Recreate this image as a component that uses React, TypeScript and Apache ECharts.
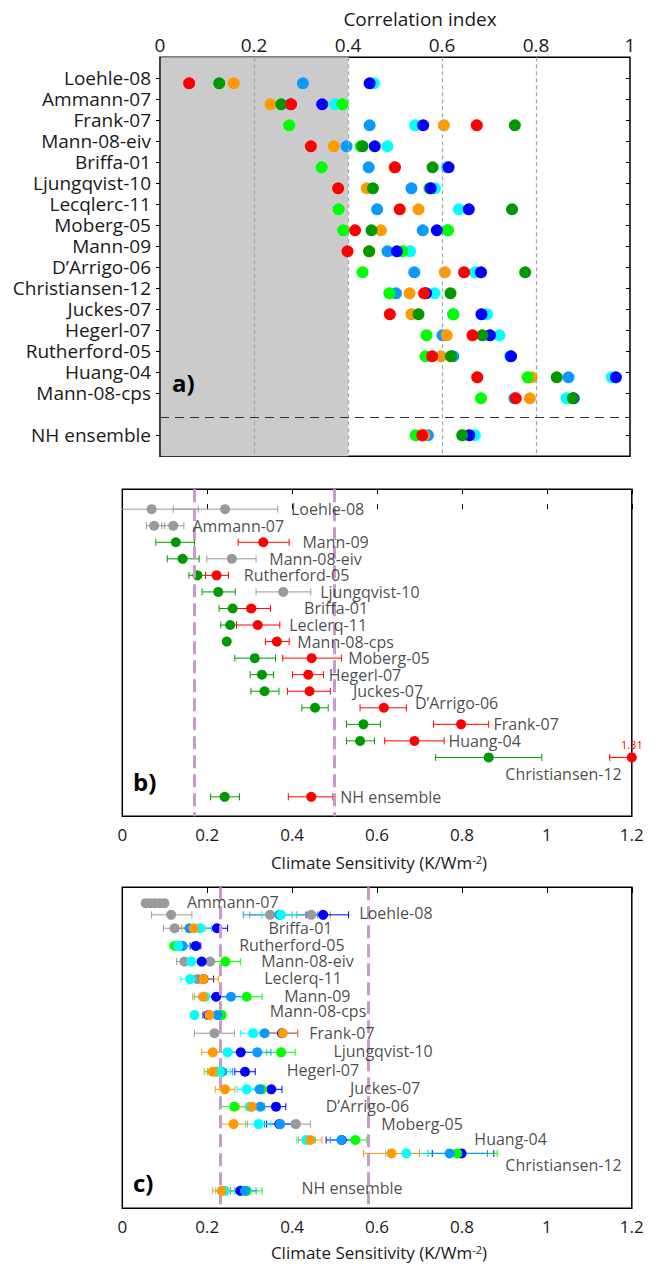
import React, { useEffect, useRef } from "react";
import * as echarts from "echarts";

const FONT = "'Open Sans', 'Noto Sans', 'DejaVu Sans', sans-serif";
const INK = "#1a1a1a";
const COL: Record<string, string> = {
  red: "#ff0000",
  dkgreen: "#009a00",
  orange: "#ff9a00",
  ltblue: "#0a99ff",
  blue: "#0000ff",
  cyan: "#00ffff",
  lime: "#00ff00",
  gray: "#9a9a9a",
};

// ---------------- Panel a: correlation index ----------------
const namesA = [
  "Loehle-08", "Ammann-07", "Frank-07", "Mann-08-eiv", "Briffa-01", "Ljungqvist-10",
  "Lecqlerc-11", "Moberg-05", "Mann-09", "D’Arrigo-06", "Christiansen-12", "Juckes-07",
  "Hegerl-07", "Rutherford-05", "Huang-04", "Mann-08-cps", "NH ensemble",
];
const rowsA = [0, 1, 2, 3, 4, 5, 6, 7, 8, 9, 10, 11, 12, 13, 14, 15, 17];
const separatorA = 16.16;
const corrTicks = [0, 0.2, 0.4, 0.6, 0.8, 1];
const corrGrid = [0.2, 0.4, 0.6, 0.8];
const corrThreshold = 0.4;

const corrCyan = [0.455, 0.372, 0.543, 0.484, 0.61, 0.585, 0.636, 0.611, 0.532, 0.67, 0.584, 0.696, 0.722, 0.745, 0.961, 0.865, 0.67];
const corrLtblue = [0.304, 0.277, 0.446, 0.397, 0.444, 0.535, 0.462, 0.559, 0.484, 0.541, 0.502, 0.624, 0.601, 0.624, 0.869, 0.754, 0.57];
const corrOrange = [0.157, 0.235, 0.604, 0.37, 0.499, 0.44, 0.55, 0.47, 0.445, 0.606, 0.531, 0.535, 0.61, 0.598, 0.791, 0.787, 0.562];
const corrLime = [null, 0.388, 0.275, 0.427, 0.344, 0.573, 0.38, 0.39, 0.516, 0.431, 0.488, 0.624, 0.567, 0.565, 0.782, 0.683, 0.544];
const corrLimeExtra = [null, null, null, null, null, null, null, 0.613, null, null, null, null, null, null, null, null, null];
const corrBlue = [0.446, 0.345, 0.56, 0.457, 0.614, 0.576, 0.657, 0.589, 0.504, 0.683, 0.566, 0.684, 0.702, 0.747, 0.97, 0.88, 0.658];
const corrDkgreen = [0.126, 0.258, 0.755, 0.431, 0.58, 0.453, 0.749, 0.45, 0.445, 0.777, 0.618, 0.55, 0.686, 0.619, 0.844, 0.878, 0.643];
const corrRed = [0.062, 0.279, 0.674, 0.321, 0.5, 0.379, 0.51, 0.415, 0.399, 0.647, 0.562, 0.489, 0.665, 0.579, 0.675, 0.757, 0.558];

// ---------------- Panel b: climate sensitivity ----------------
const sensTicks = [0, 0.2, 0.4, 0.6, 0.8, 1, 1.2];
const namesB = [
  "Loehle-08", "Ammann-07", "Mann-09", "Mann-08-eiv", "Rutherford-05", "Ljungqvist-10",
  "Briffa-01", "Leclerq-11", "Mann-08-cps", "Moberg-05", "Hegerl-07", "Juckes-07",
  "D’Arrigo-06", "Frank-07", "Huang-04", "Christiansen-12", "NH ensemble",
];
const rowsB = [0, 1, 2, 3, 4, 5, 6, 7, 8, 9, 10, 11, 12, 13, 14, 15, 17.38];
const labelXB = [0.396, 0.164, 0.423, 0.345, 0.285, 0.465, 0.427, 0.392, 0.411, 0.531, 0.485, 0.542, 0.688, 0.873, 0.767, 0.901, 0.512];
const labelYB = [0, 1, 2, 3, 4, 5, 6, 7, 8, 9, 10, 11, 11.73, 13, 14, 16.02, 17.38];
const rangeB = [0.172, 0.498];
// [row, value, low, high]
const sensGrayB = [
  [0, 0.069, -0.04, 0.179], [0, 0.242, 0.12, 0.366],
  [1, 0.075, 0.057, 0.1], [1, 0.12, 0.093, 0.145],
  [3, 0.258, 0.199, 0.315], [5, 0.379, 0.315, 0.444],
];
const sensGreenB = [
  [2, 0.126, 0.079, 0.17], [3, 0.142, 0.106, 0.181], [4, 0.177, 0.157, 0.196],
  [5, 0.226, 0.188, 0.266], [6, 0.26, 0.228, 0.294], [7, 0.254, 0.232, 0.269],
  [8, 0.246, 0.246, 0.246], [9, 0.312, 0.265, 0.361], [10, 0.329, 0.301, 0.356],
  [11, 0.335, 0.303, 0.369], [12, 0.454, 0.423, 0.485], [13, 0.568, 0.528, 0.608],
  [14, 0.56, 0.528, 0.594], [15, 0.863, 0.738, 0.988], [16, 0.241, 0.208, 0.276],
];
const sensRedB = [
  [2, 0.332, 0.273, 0.393], [4, 0.222, 0.196, 0.25], [6, 0.304, 0.265, 0.349],
  [7, 0.319, 0.269, 0.371], [8, 0.364, 0.337, 0.393], [9, 0.446, 0.378, 0.516],
  [10, 0.438, 0.401, 0.474], [11, 0.441, 0.389, 0.49], [12, 0.616, 0.56, 0.669],
  [13, 0.798, 0.733, 0.863], [14, 0.688, 0.618, 0.758], [15, 1.31, 1.148, 1.47],
  [16, 0.445, 0.391, 0.496],
];

// ---------------- Panel c: climate sensitivity ----------------
const namesC = [
  "Ammann-07", "Loehle-08", "Briffa-01", "Rutherford-05", "Mann-08-eiv", "Leclerq-11",
  "Mann-09", "Mann-08-cps", "Frank-07", "Ljungqvist-10", "Hegerl-07", "Juckes-07",
  "D’Arrigo-06", "Moberg-05", "Huang-04", "Christiansen-12", "NH ensemble",
];
const rowsC = [0.58, 1.24, 2, 3, 3.89, 4.88, 5.88, 6.92, 7.95, 9.03, 10.13, 11.13, 12.11, 13.1, 14, 14.76, 16.88];
const labelXC = [0.151, 0.557, 0.343, 0.274, 0.326, 0.333, 0.38, 0.346, 0.439, 0.496, 0.386, 0.535, 0.478, 0.609, 0.828, 0.901, 0.421];
const labelYC = [0.53, 1.13, 2, 2.94, 3.84, 4.84, 5.85, 6.7, 7.94, 8.94, 10.04, 11.07, 12.07, 13.11, 13.94, 15.42, 16.74];
const rangeC = [0.23, 0.58];
const sensGrayC = [
  [0, 0.055, 0.055, 0.055], [0, 0.066, 0.066, 0.066], [0, 0.077, 0.077, 0.077],
  [0, 0.088, 0.088, 0.088], [0, 0.099, 0.099, 0.099],
  [1, 0.115, 0.069, 0.164], [1, 0.348, 0.3, 0.4], [1, 0.445, 0.41, 0.49],
  [2, 0.123, 0.097, 0.15], [4, 0.146, 0.128, 0.17], [4, 0.207, 0.18, 0.235],
  [5, 0.177, 0.155, 0.2], [8, 0.217, 0.17, 0.264], [13, 0.409, 0.375, 0.443],
];
const sensBlueC = [
  [1, 0.473, 0.433, 0.533], [2, 0.223, 0.19, 0.248], [3, 0.173, 0.16, 0.185],
  [4, 0.187, 0.165, 0.21], [5, 0.191, 0.17, 0.215], [6, 0.221, 0.195, 0.25],
  [7, 0.203, 0.19, 0.22], [8, 0.376, 0.34, 0.413], [9, 0.279, 0.25, 0.31],
  [10, 0.289, 0.265, 0.313], [11, 0.351, 0.325, 0.376], [12, 0.362, 0.335, 0.385],
  [13, 0.37, 0.34, 0.4], [14, 0.517, 0.48, 0.55], [15, 0.799, 0.73, 0.875],
  [16, 0.278, 0.255, 0.3],
];
const sensLimeC = [
  [3, 0.124, 0.112, 0.138], [4, 0.243, 0.205, 0.278], [6, 0.293, 0.26, 0.329],
  [7, 0.234, 0.22, 0.242], [9, 0.374, 0.34, 0.407], [10, 0.221, 0.2, 0.245],
  [11, 0.329, 0.3, 0.355], [12, 0.264, 0.229, 0.3], [14, 0.549, 0.52, 0.576],
  [15, 0.789, 0.72, 0.883], [16, 0.293, 0.27, 0.329],
];
const sensLtblueC = [
  [1, 0.37, 0.285, 0.46], [2, 0.158, 0.132, 0.19], [3, 0.142, 0.125, 0.16],
  [6, 0.256, 0.225, 0.29], [7, 0.224, 0.21, 0.24], [8, 0.335, 0.3, 0.37],
  [9, 0.318, 0.285, 0.35], [10, 0.234, 0.21, 0.26], [11, 0.323, 0.295, 0.35],
  [12, 0.325, 0.295, 0.355], [13, 0.372, 0.335, 0.405], [14, 0.516, 0.49, 0.545],
  [15, 0.771, 0.7, 0.86], [16, 0.289, 0.265, 0.315],
];
const sensCyanC = [
  [1, 0.374, 0.329, 0.411], [2, 0.183, 0.15, 0.21], [3, 0.132, 0.118, 0.146],
  [4, 0.162, 0.14, 0.185], [5, 0.16, 0.138, 0.18], [6, 0.195, 0.17, 0.22],
  [7, 0.17, 0.17, 0.17], [8, 0.308, 0.278, 0.34], [9, 0.248, 0.22, 0.28],
  [10, 0.23, 0.205, 0.255], [11, 0.293, 0.27, 0.32], [12, 0.3, 0.27, 0.33],
  [13, 0.321, 0.29, 0.35], [14, 0.433, 0.411, 0.455], [15, 0.669, 0.62, 0.72],
  [16, 0.242, 0.22, 0.265],
];
const sensOrangeC = [
  [2, 0.168, 0.14, 0.195], [5, 0.191, 0.168, 0.226], [6, 0.19, 0.166, 0.215],
  [7, 0.205, 0.193, 0.22], [8, 0.378, 0.345, 0.413], [9, 0.213, 0.187, 0.24],
  [10, 0.213, 0.193, 0.235], [11, 0.242, 0.219, 0.265], [12, 0.305, 0.275, 0.335],
  [13, 0.262, 0.229, 0.295], [14, 0.443, 0.415, 0.47], [15, 0.634, 0.568, 0.7],
  [16, 0.234, 0.213, 0.255],
];

// ---------------- layout ----------------
const GA = { left: 160, top: 57.3, width: 470, height: 399 };
const GB = { left: 122.3, top: 489.3, width: 509.5, height: 326.9 };
const GC = { left: 122.3, top: 887.3, width: 509.5, height: 321 };
const SENS_MAX = sensTicks[sensTicks.length - 1];

const fmt = (v: number) => String(Number(v.toFixed(1)));

function errRender(cap: number) {
  return (params: any, api: any) => {
    const lo = api.value(1);
    const hi = api.value(2);
    const y = api.value(3);
    const a = api.coord([lo, y]);
    const b = api.coord([hi, y]);
    const color = api.visual("color");
    const style = { stroke: color, lineWidth: 1, fill: null };
    return {
      type: "group",
      children: [
        { type: "line", shape: { x1: a[0], y1: a[1], x2: b[0], y2: b[1] }, style },
        { type: "line", shape: { x1: a[0], y1: a[1] - cap, x2: a[0], y2: a[1] + cap }, style },
        { type: "line", shape: { x1: b[0], y1: b[1] - cap, x2: b[0], y2: b[1] + cap }, style },
      ],
    };
  };
}

function errSeries(data: number[][], rows: number[], color: string, axis: number, z: number) {
  return {
    type: "custom",
    xAxisIndex: axis * 2 + 1,
    yAxisIndex: axis + 1,
    renderItem: errRender(3.5),
    clip: true,
    silent: true,
    z,
    itemStyle: { color },
    encode: { x: [0, 1, 2], y: 3 },
    data: data.map((d) => [Math.min(d[1], SENS_MAX), d[2], d[3], rows[d[0]]]),
  };
}

function dotSeries(data: number[][], rows: number[], color: string, axis: number, z: number, size: number, extra?: any) {
  return {
    type: "scatter",
    xAxisIndex: axis * 2 + 1,
    yAxisIndex: axis + 1,
    symbolSize: size,
    silent: true,
    z,
    itemStyle: { color, opacity: 1 },
    data: data.map((d) => {
      const item: any = { value: [Math.min(d[1], SENS_MAX), rows[d[0]]] };
      if (extra && d[1] > SENS_MAX) item.label = extra(d[1]);
      return item;
    }),
  };
}

function labelSeries(names: string[], xs: number[], ys: number[], axis: number) {
  return {
    type: "scatter",
    xAxisIndex: axis * 2 + 1,
    yAxisIndex: axis + 1,
    symbolSize: 1,
    silent: true,
    z: 20,
    itemStyle: { color: "rgba(0,0,0,0)" },
    label: {
      show: true,
      position: "right",
      distance: 0,
      formatter: (p: any) => p.name,
      fontSize: 16,
      fontFamily: FONT,
      color: INK,
    },
    data: names.map((n, i) => ({ name: n, value: [xs[i], ys[i]] })),
  };
}

function rangeSeries(vals: number[], axis: number) {
  return {
    type: "scatter",
    xAxisIndex: axis * 2 + 1,
    yAxisIndex: axis + 1,
    data: [],
    z: 1,
    silent: true,
    markLine: {
      silent: true,
      symbol: ["none", "none"],
      label: { show: false },
      lineStyle: { color: "#c99bca", width: 3, type: [13, 6] },
      data: vals.map((v) => ({ xAxis: v })),
    },
  };
}

function buildOption() {
  const dotY = (i: number) => (i < 16 ? rowsA[i] + 0.24 : rowsA[i]);
  const corrSeries = (vals: (number | null)[], color: string, z: number) => ({
    type: "scatter",
    xAxisIndex: 0,
    yAxisIndex: 0,
    symbolSize: 12,
    silent: true,
    z,
    itemStyle: { color, opacity: 1 },
    data: vals
      .map((v, i) => (v == null ? null : [v, dotY(i)]))
      .filter((d) => d != null),
  });

  const sensX = (gridIndex: number, pos: "top" | "bottom") => ({
    type: "value",
    gridIndex,
    position: pos,
    min: sensTicks[0],
    max: SENS_MAX,
    interval: 0.2,
    axisLine: { show: false },
    axisTick: { show: true, inside: true, length: 5, lineStyle: { color: "#000", width: 1 } },
    axisLabel: {
      show: pos === "bottom",
      fontSize: 17,
      fontFamily: FONT,
      color: INK,
      margin: 10,
      formatter: (v: number) => fmt(v),
    },
    splitLine: { show: false },
  });

  const hiddenY = (gridIndex: number, min: number, max: number) => ({
    type: "value",
    gridIndex,
    inverse: true,
    min,
    max,
    show: false,
    splitLine: { show: false },
  });

  const gridStyle = { show: true, borderColor: "#000", borderWidth: 1.5, backgroundColor: "rgba(0,0,0,0)", containLabel: false };

  const titleRich = {
    t: { fontSize: 17, fontFamily: FONT, fill: INK, color: INK },
    s: { fontSize: 11, fontFamily: FONT, fill: INK, color: INK, verticalAlign: "top" },
  };

  return {
    animation: false,
    backgroundColor: "#ffffff",
    textStyle: { fontFamily: FONT },
    grid: [
      { ...GA, ...gridStyle },
      { ...GB, ...gridStyle },
      { ...GC, ...gridStyle },
    ],
    xAxis: [
      {
        type: "value",
        gridIndex: 0,
        position: "top",
        min: corrTicks[0],
        max: corrTicks[corrTicks.length - 1],
        interval: 0.2,
        axisLine: { show: false },
        axisTick: { show: false },
        axisLabel: { fontSize: 19, fontFamily: FONT, color: INK, margin: 3, formatter: (v: number) => fmt(v) },
        splitLine: { show: false },
      },
      sensX(1, "bottom"),
      sensX(1, "top"),
      sensX(2, "bottom"),
      sensX(2, "top"),
    ],
    yAxis: [
      {
        type: "value",
        gridIndex: 0,
        position: "left",
        inverse: true,
        min: -1,
        max: 18,
        axisLine: { show: false },
        axisTick: { show: true, inside: false, length: 4, customValues: rowsA, lineStyle: { color: "#000" } },
        axisLabel: {
          show: true,
          customValues: rowsA,
          fontSize: 19,
          fontFamily: FONT,
          color: INK,
          margin: 9,
          padding: [4, 0, 0, 0],
          formatter: (v: number) => {
            const i = rowsA.indexOf(Math.round(v));
            return i >= 0 ? namesA[i] : "";
          },
        },
        splitLine: { show: false },
      },
      hiddenY(1, -1.2, 18.55),
      hiddenY(2, -0.32, 17.87),
      {
        type: "value",
        gridIndex: 0,
        position: "right",
        inverse: true,
        min: -1,
        max: 18,
        axisLine: { show: false },
        axisTick: { show: true, inside: true, length: 4, customValues: rowsA, lineStyle: { color: "#000" } },
        axisLabel: { show: false },
        splitLine: { show: false },
      },
    ],
    series: [
      // Panel a: shaded region
      {
        type: "scatter",
        xAxisIndex: 0,
        yAxisIndex: 0,
        data: [],
        z: 1,
        silent: true,
        markArea: {
          silent: true,
          itemStyle: { color: "#cbcbcb" },
          data: [[{ xAxis: 0.002 }, { xAxis: corrThreshold }]],
        },
      },
      {
        type: "scatter",
        xAxisIndex: 0,
        yAxisIndex: 0,
        data: [],
        z: 1.5,
        silent: true,
        markLine: {
          silent: true,
          symbol: ["none", "none"],
          label: { show: false },
          lineStyle: { color: "#a6a6a6", width: 1.2, type: [4, 3] },
          data: [
            ...corrGrid.map((v) => ({ xAxis: v })),
            { yAxis: separatorA, lineStyle: { color: "#333333", width: 1.2, type: [9, 6] } },
          ],
        },
      },
      corrSeries(corrCyan, COL.cyan, 2),
      corrSeries(corrLtblue, COL.ltblue, 3),
      corrSeries(corrOrange, COL.orange, 4),
      corrSeries(corrLime, COL.lime, 5),
      corrSeries(corrLimeExtra, COL.lime, 5),
      corrSeries(corrBlue, COL.blue, 6),
      corrSeries(corrDkgreen, COL.dkgreen, 7),
      corrSeries(corrRed, COL.red, 8),

      // Panel b
      rangeSeries(rangeB, 0),
      errSeries(sensGrayB, rowsB, COL.gray, 0, 2),
      errSeries(sensGreenB, rowsB, COL.dkgreen, 0, 2),
      errSeries(sensRedB, rowsB, COL.red, 0, 2),
      dotSeries(sensGrayB, rowsB, COL.gray, 0, 3, 10),
      dotSeries(sensGreenB, rowsB, COL.dkgreen, 0, 3, 10),
      dotSeries(sensRedB, rowsB, COL.red, 0, 4, 10, (v: number) => ({
        show: true,
        position: "top",
        distance: 2,
        formatter: String(v),
        fontSize: 11,
        fontFamily: FONT,
        color: COL.red,
      })),
      labelSeries(namesB, labelXB, labelYB, 0),

      // Panel c
      rangeSeries(rangeC, 1),
      errSeries(sensGrayC, rowsC, COL.gray, 1, 2),
      errSeries(sensBlueC, rowsC, COL.blue, 1, 2),
      errSeries(sensLimeC, rowsC, COL.lime, 1, 2),
      errSeries(sensLtblueC, rowsC, COL.ltblue, 1, 2),
      errSeries(sensCyanC, rowsC, COL.cyan, 1, 2),
      errSeries(sensOrangeC, rowsC, COL.orange, 1, 2),
      dotSeries(sensGrayC, rowsC, COL.gray, 1, 3, 10),
      dotSeries(sensBlueC, rowsC, COL.blue, 1, 4, 10),
      dotSeries(sensLimeC, rowsC, COL.lime, 1, 5, 10),
      dotSeries(sensLtblueC, rowsC, COL.ltblue, 1, 6, 10),
      dotSeries(sensCyanC, rowsC, COL.cyan, 1, 7, 10),
      dotSeries(sensOrangeC, rowsC, COL.orange, 1, 8, 10),
      labelSeries(namesC, labelXC, labelYC, 1),
    ],
    graphic: [
      {
        type: "text",
        x: 420,
        y: 19,
        z: 50,
        style: { text: "Correlation index", fontSize: 19, fontFamily: FONT, fill: INK, align: "center", verticalAlign: "middle" },
      },
      {
        type: "text",
        x: 379,
        y: 862,
        z: 50,
        style: { text: "{t|Climate Sensitivity (K/Wm}{s|-2}{t|)}", rich: titleRich, align: "center", verticalAlign: "middle" },
      },
      {
        type: "text",
        x: 379,
        y: 1252,
        z: 50,
        style: { text: "{t|Climate Sensitivity (K/Wm}{s|-2}{t|)}", rich: titleRich, align: "center", verticalAlign: "middle" },
      },
      {
        type: "text",
        x: 172,
        y: 382,
        z: 50,
        style: { text: "a)", fontSize: 24, fontWeight: "bold", fontFamily: FONT, fill: "#000", align: "left", verticalAlign: "middle" },
      },
      {
        type: "text",
        x: 133,
        y: 781,
        z: 50,
        style: { text: "b)", fontSize: 24, fontWeight: "bold", fontFamily: FONT, fill: "#000", align: "left", verticalAlign: "middle" },
      },
      {
        type: "text",
        x: 133,
        y: 1182,
        z: 50,
        style: { text: "c)", fontSize: 24, fontWeight: "bold", fontFamily: FONT, fill: "#000", align: "left", verticalAlign: "middle" },
      },
    ],
  };
}

export default function App() {
  const ref = useRef<HTMLDivElement>(null);
  useEffect(() => {
    document.body.style.margin = "0";
    const el = ref.current;
    if (!el) return;
    const chart = echarts.init(el, null, { renderer: "svg" });
    chart.setOption(buildOption() as any);
    return () => chart.dispose();
  }, []);
  return <div ref={ref} style={{ width: 656, height: 1268, display: "block" }} />;
}
